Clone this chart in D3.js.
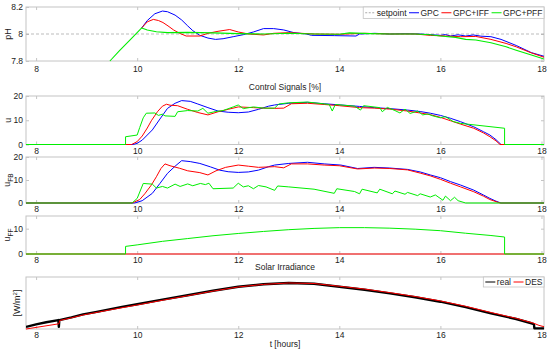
<!DOCTYPE html>
<html>
<head>
<meta charset="utf-8">
<script src="https://cdn.jsdelivr.net/npm/d3@7"></script>
<style>
  body { margin: 0; background: #fff; }
  text { font-family: 'Liberation Sans', Arial, sans-serif; font-size: 8.5px; fill: #222; }
</style>
</head>
<body>
<svg width="550" height="352"></svg>
<script>
// ---- data (t in hours) ----
const timeDomain = [7.8, 18.05];
const hourTicks = [8, 10, 12, 14, 16, 18];

const phTicks = [7.8, 8, 8.2];
const phSetpoint = 8;
const phRise = [[9.46, 7.8], [9.66, 7.881], [9.86, 7.956], [10.09, 8.045]];
const phGPC = [[10.09, 8.045], [10.2, 8.1], [10.35, 8.15], [10.5, 8.17], [10.6, 8.165], [10.75, 8.14], [10.88, 8.104],
  [11.0, 8.06], [11.1, 8.025], [11.24, 7.99], [11.4, 7.97], [11.55, 7.96], [11.7, 7.965], [11.9, 7.98], [12.1, 7.995],
  [12.3, 8.015], [12.5, 8.04], [12.7, 8.04], [12.9, 8.03], [13.1, 8.01], [13.35, 8.0], [13.45, 7.99], [13.9, 7.988],
  [14.33, 7.985], [14.4, 8.0], [14.7, 8.005], [15.0, 8.0], [15.3, 8.002], [15.6, 8.0], [15.8, 7.995], [16.0, 7.99],
  [16.1, 7.996], [16.2, 7.985], [16.35, 7.994], [16.5, 7.985], [16.65, 7.993], [16.8, 7.984], [17.0, 7.98],
  [17.2, 7.96], [17.5, 7.915], [17.8, 7.862], [18.05, 7.835]];
const phIFF = [[10.09, 8.045], [10.2, 8.09], [10.32, 8.108], [10.42, 8.1], [10.51, 8.085], [10.61, 8.06], [10.72, 8.03],
  [10.84, 8.005], [10.97, 7.985], [11.24, 7.985], [11.4, 8.005], [11.6, 8.02], [11.83, 8.033], [12.0, 8.015],
  [12.2, 8.0], [12.5, 7.993], [12.7, 8.005], [13.0, 8.01], [13.5, 8.0], [14.0, 7.998], [14.5, 8.005], [15.0, 8.0],
  [15.5, 8.0], [15.8, 7.99], [16.1, 7.985], [16.4, 7.98], [16.7, 7.982], [17.0, 7.96], [17.3, 7.93], [17.5, 7.905],
  [17.8, 7.86], [18.05, 7.828]];
const phPFF = phRise.concat([[10.2, 8.03], [10.38, 8.017], [10.6, 8.01], [11.0, 8.012], [11.5, 8.008], [12.0, 8.003],
  [12.5, 8.0], [13.0, 8.005], [13.5, 8.0], [14.0, 7.998], [14.2, 8.008], [14.6, 8.003], [15.0, 8.0], [15.5, 8.0],
  [15.8, 7.995], [16.0, 7.985], [16.3, 7.975], [16.5, 7.96], [16.7, 7.955], [17.0, 7.935], [17.3, 7.905],
  [17.5, 7.88], [17.8, 7.845], [18.05, 7.815]]);

const uTicks = [0, 10, 20];
const uGPC = [[7.8, 0], [9.92, 0], [10.0, 0.5], [10.1, 1.8], [10.3, 6.0], [10.45, 10.5], [10.6, 14.9], [10.75, 17.0],
  [10.88, 18.1], [11.05, 17.8], [11.2, 16.7], [11.4, 15.2], [11.6, 13.8], [11.8, 13.3], [12.0, 13.1], [12.2, 13.4],
  [12.4, 14.5], [12.6, 15.8], [12.72, 16.3], [13.0, 17.0], [13.37, 17.4], [13.7, 16.8], [14.03, 16.3], [14.4, 15.7],
  [14.69, 15.2], [15.0, 14.8], [15.35, 14.2], [15.6, 13.6], [15.8, 12.9], [16.0, 12.0], [16.2, 10.8], [16.4, 9.4],
  [16.66, 7.3], [16.85, 5.3], [16.98, 3.9], [17.1, 2.0], [17.2, 0], [18.05, 0]];
const uIFF = [[7.8, 0], [9.89, 0], [10.0, 1.2], [10.1, 3.5], [10.2, 6.8], [10.28, 9.8], [10.4, 13.5], [10.5, 15.8],
  [10.58, 16.6], [10.65, 16.2], [10.8, 16.0], [11.0, 14.5], [11.2, 13.2], [11.4, 12.2], [11.6, 13.5], [11.8, 14.5],
  [12.0, 15.5], [12.3, 15.2], [12.5, 15.0], [12.72, 14.9], [12.9, 15.0], [13.05, 16.8], [13.37, 17.0], [13.7, 16.5],
  [14.0, 16.0], [14.4, 15.2], [14.7, 15.0], [15.0, 14.6], [15.35, 13.8], [15.6, 13.0], [15.8, 12.3], [16.0, 11.2],
  [16.2, 9.8], [16.4, 8.4], [16.66, 6.7], [16.85, 4.8], [16.98, 3.2], [17.1, 1.5], [17.18, 0], [18.05, 0]];
const uPFF = [[7.8, 0], [9.77, 0], [9.77, 3.2], [10.0, 3.9], [10.05, 7], [10.12, 11], [10.18, 12.9], [10.35, 13.0],
  [10.42, 12.0], [10.5, 12.5], [10.55, 11.8], [10.75, 11.6], [10.8, 13.5], [11.0, 14.0], [11.2, 13.8], [11.3, 14.9],
  [11.4, 12.9], [11.55, 13.6], [11.7, 14.0], [11.9, 15.5], [12.0, 16.3], [12.1, 14.8], [12.3, 15.5], [12.5, 15.0],
  [12.72, 15.0], [12.8, 16.7], [13.0, 17.2], [13.37, 17.5], [13.8, 16.5], [13.86, 13.8], [13.92, 16.5], [14.3, 15.8],
  [14.42, 14.2], [14.48, 16.0], [14.8, 15.2], [14.85, 13.5], [14.95, 15.3], [15.1, 14.0], [15.2, 13.0], [15.3, 14.6],
  [15.4, 12.8], [15.55, 13.8], [15.65, 12.2], [15.75, 12.6], [15.85, 11.8], [16.0, 11.0], [16.1, 11.5], [16.25, 9.5],
  [16.4, 8.7], [17.27, 6.7], [17.27, 0], [18.05, 0]];

const ufbTicks = [0, 10, 20];
const ufbGPC = [[7.8, 0], [9.95, 0], [10.1, 1.0], [10.3, 4.2], [10.45, 8.5], [10.6, 12.9], [10.75, 16.0], [10.88, 18.4],
  [11.05, 18.0], [11.24, 17.2], [11.45, 15.7], [11.63, 14.3], [11.8, 13.6], [12.0, 13.3], [12.2, 13.5], [12.4, 14.3],
  [12.6, 15.8], [12.72, 16.5], [13.0, 17.2], [13.37, 17.7], [13.7, 17.0], [14.03, 16.5], [14.36, 15.0], [14.69, 15.5],
  [15.0, 15.2], [15.35, 14.6], [15.6, 13.5], [15.8, 12.2], [16.0, 11.0], [16.2, 9.3], [16.4, 7.8], [16.66, 5.6],
  [16.85, 3.5], [16.98, 2.0], [17.1, 0.8], [17.2, 0], [18.05, 0]];
const ufbIFF = [[7.8, 0], [9.9, 0], [10.05, 1.5], [10.15, 4.0], [10.28, 7.8], [10.38, 11.4], [10.47, 15.0], [10.55, 17.0],
  [10.65, 16.2], [10.84, 15.1], [11.0, 14.0], [11.24, 13.2], [11.4, 12.2], [11.56, 14.0], [11.75, 15.5], [12.0, 16.5],
  [12.2, 16.0], [12.4, 15.5], [12.72, 15.8], [12.9, 15.3], [13.05, 17.0], [13.37, 17.0], [13.7, 16.5], [14.0, 16.2],
  [14.36, 14.8], [14.7, 15.2], [15.0, 15.0], [15.35, 14.4], [15.6, 13.0], [15.8, 11.8], [16.0, 10.3], [16.2, 8.6],
  [16.4, 7.0], [16.66, 4.9], [16.85, 3.0], [16.98, 1.5], [17.18, 0], [18.05, 0]];
const ufbPFF = [[7.8, 0], [9.9, 0], [10.0, 2], [10.12, 8.5], [10.3, 8.2], [10.38, 6.5], [10.5, 7.2], [10.6, 6.5],
  [10.75, 8.2], [10.85, 7.2], [11.0, 8.3], [11.1, 7.5], [11.25, 8.5], [11.35, 8.0], [11.42, 8.6], [11.5, 6.2],
  [11.9, 6.5], [12.0, 8.6], [12.1, 7.0], [12.2, 7.5], [12.3, 6.2], [12.4, 7.6], [12.55, 7.0], [12.72, 5.5],
  [12.78, 7.4], [13.0, 7.0], [13.5, 6.0], [13.9, 4.2], [13.95, 6.2], [14.3, 5.0], [14.4, 4.0], [14.45, 6.0],
  [14.75, 4.4], [14.8, 6.0], [15.05, 4.0], [15.1, 5.2], [15.3, 3.8], [15.35, 4.6], [15.55, 3.2], [15.6, 4.0],
  [15.8, 2.6], [15.9, 3.5], [16.05, 1.2], [16.1, 3.0], [16.2, 1.0], [16.28, 2.5], [16.35, 1.0], [16.5, 0], [18.05, 0]];

const uffTicks = [0, 10];
const uffIFF = [[7.8, 0], [18.05, 0]];
const uffPFF = [[7.8, 0], [9.77, 0], [9.77, 3.0], [10.0, 3.6], [10.5, 5.0], [11.0, 6.1], [11.5, 7.2], [12.0, 8.1],
  [12.5, 8.9], [13.0, 9.6], [13.5, 10.1], [14.0, 10.4], [14.5, 10.4], [15.0, 10.2], [15.5, 9.8], [16.0, 9.2],
  [16.5, 8.2], [17.0, 7.3], [17.27, 6.7], [17.27, 0], [18.05, 0]];

const irrReal = [[7.8, 40], [8.0, 90], [8.2, 130], [8.44, 172], [8.45, 40], [8.46, 172], [8.7, 225], [8.93, 282],
  [9.2, 330], [9.45, 378], [9.7, 425], [10.0, 475], [10.5, 565], [11.0, 650], [11.5, 735], [12.0, 813], [12.5, 860],
  [13.0, 885], [13.5, 870], [14.0, 813], [14.5, 755], [15.0, 686], [15.5, 610], [16.0, 525], [16.5, 420],
  [17.0, 302], [17.5, 192], [17.8, 110], [17.85, 95], [17.86, 12], [18.05, 12]];
const irrDES = [[7.8, 0], [8.45, 100], [8.47, 165], [8.7, 215], [8.93, 270], [9.45, 365], [10.0, 462], [10.5, 552],
  [11.0, 640], [11.5, 728], [12.0, 808], [12.5, 858], [13.0, 885], [13.5, 875], [14.0, 822], [14.5, 768],
  [15.0, 700], [15.5, 625], [16.0, 540], [16.5, 437], [17.0, 318], [17.5, 205], [17.85, 110], [17.95, 70], [18.05, 45]];

const colors = {gpc: '#0000ff', iff: '#ff0000', pff: '#00ee00', real: '#000000', grey: '#c4c4c4'};

// ---- layout ----
const svg = d3.select('svg');
const plotLeft = 26, plotRight = 544;
const x = d3.scaleLinear().domain(timeDomain).range([plotLeft, plotRight]);

const panels = [
  {top: 7, bottom: 61, yDomain: [7.8, 8.2], yTicks: phTicks, label: ['pH'], labelX: 11, xPad: 5,
    series: [[phGPC, colors.gpc], [phIFF, colors.iff], [phPFF, colors.pff, 1.1]]},
  {top: 96, bottom: 144.5, yDomain: [0, 20], yTicks: uTicks, label: ['u'], labelX: 11, xPad: 3,
    series: [[uGPC, colors.gpc], [uIFF, colors.iff], [uPFF, colors.pff]]},
  {top: 157, bottom: 203, yDomain: [0, 20], yTicks: ufbTicks, label: ['u', 'FB'], labelX: 10, xPad: 3,
    series: [[ufbGPC, colors.gpc], [ufbIFF, colors.iff], [ufbPFF, colors.pff]]},
  {top: 216, bottom: 254, yDomain: [0, 15], yTicks: uffTicks, label: ['u', 'FF'], labelX: 10, xPad: 3,
    series: [[uffIFF, colors.iff], [uffPFF, colors.pff]]},
  {top: 277, bottom: 329, yDomain: [0, 1000], yTicks: [], label: null, labelX: 20, xPad: 3,
    series: [[irrReal, colors.real, 2.4], [irrDES, colors.iff, 1]]}
];

panels.forEach((p, i) => {
  const y = d3.scaleLinear().domain(p.yDomain).range([p.bottom, p.top]);
  const g = svg.append('g');

  // clip a little beyond the box so that lines sitting on 0 stay whole
  g.append('clipPath').attr('id', 'clip' + i)
    .append('rect')
    .attr('x', plotLeft).attr('y', p.top - 1)
    .attr('width', plotRight - plotLeft).attr('height', p.bottom - p.top + 2);

  // axes with inward ticks
  const styleAxis = sel => {
    sel.select('.domain').remove();
    sel.selectAll('.tick line').attr('stroke', colors.grey);
    sel.selectAll('.tick text').attr('fill', '#222').style('font-size', '8.5px')
      .style('font-family', "'Liberation Sans', Arial, sans-serif");
  };
  g.append('g').attr('transform', `translate(0,${p.bottom})`)
    .call(d3.axisBottom(x).tickValues(hourTicks).tickSize(-3).tickPadding(p.xPad).tickFormat(d => d))
    .call(styleAxis);
  g.append('g').attr('transform', `translate(0,${p.top})`)
    .call(d3.axisTop(x).tickValues(hourTicks).tickSize(-3).tickFormat(''))
    .call(styleAxis);
  g.append('g').attr('transform', `translate(${plotLeft},0)`)
    .call(d3.axisLeft(y).tickValues(p.yTicks).tickSize(-3).tickPadding(3).tickFormat(d => d))
    .call(styleAxis);
  g.append('g').attr('transform', `translate(${plotRight},0)`)
    .call(d3.axisRight(y).tickValues(p.yTicks).tickSize(-3).tickFormat(''))
    .call(styleAxis);

  g.append('rect')
    .attr('x', plotLeft).attr('y', p.top)
    .attr('width', plotRight - plotLeft).attr('height', p.bottom - p.top)
    .attr('fill', 'none').attr('stroke', colors.grey).attr('stroke-width', 1);

  const line = d3.line().x(d => x(d[0])).y(d => y(d[1]));
  const lines = g.append('g').attr('clip-path', `url(#clip${i})`);

  if (i === 0) {
    lines.append('line')
      .attr('x1', plotLeft).attr('x2', plotRight)
      .attr('y1', y(phSetpoint)).attr('y2', y(phSetpoint))
      .attr('stroke', '#aaa').attr('stroke-width', 0.8).attr('stroke-dasharray', '3,2');
  }

  p.series.forEach(([data, color, w]) => {
    lines.append('path')
      .datum(data)
      .attr('d', line)
      .attr('fill', 'none')
      .attr('stroke', color)
      .attr('stroke-width', w || 1)
      .attr('stroke-linejoin', 'round');
  });

  // y labels
  const cy = (p.top + p.bottom) / 2;
  const lab = svg.append('text')
    .attr('transform', `translate(${p.labelX},${cy}) rotate(-90)`)
    .attr('text-anchor', 'middle')
    .style('font-size', '9px');
  if (p.label) {
    lab.append('tspan').text(p.label[0]);
    if (p.label[1]) lab.append('tspan').attr('dy', 2.5).style('font-size', '6.5px').text(p.label[1]);
  } else {
    lab.append('tspan').text('[W/m');
    lab.append('tspan').attr('dy', -3).style('font-size', '6px').text('2');
    lab.append('tspan').attr('dy', 3).text(']');
  }
});

// titles
const midX = (plotLeft + plotRight) / 2;
svg.append('text').attr('x', midX).attr('y', 90).attr('text-anchor', 'middle').text('Control Signals [%]');
svg.append('text').attr('x', midX).attr('y', 270).attr('text-anchor', 'middle').text('Solar Irradiance');
svg.append('text').attr('x', midX).attr('y', 347).attr('text-anchor', 'middle').text('t [hours]');

// legends
const legend = (items, top, h) => {
  const lg = svg.append('g');
  const box = lg.append('rect').attr('y', top).attr('height', h)
    .attr('fill', '#fff').attr('stroke', colors.grey).attr('stroke-width', 0.8);
  let cx = 0;
  const inner = lg.append('g');
  items.forEach(it => {
    inner.append('line')
      .attr('x1', cx + 2).attr('x2', cx + 12)
      .attr('y1', top + h / 2).attr('y2', top + h / 2)
      .attr('stroke', it.color).attr('stroke-width', it.width || 1)
      .attr('stroke-dasharray', it.dash || null);
    const t = inner.append('text').attr('x', cx + 13.5).attr('y', top + h / 2 + 3).text(it.name);
    cx += 13.5 + t.node().getComputedTextLength() + 0.5;
  });
  const w = cx + 1;
  box.attr('x', plotRight - w).attr('width', w);
  inner.attr('transform', `translate(${plotRight - w},0)`);
};

legend([
  {name: 'setpoint', color: '#aaa', dash: '2,1.5'},
  {name: 'GPC', color: colors.gpc},
  {name: 'GPC+IFF', color: colors.iff},
  {name: 'GPC+PFF', color: colors.pff}
], 7, 11.5);

legend([
  {name: 'real', color: '#444', width: 1.4},
  {name: 'DES', color: colors.iff}
], 277, 10);
</script>
</body>
</html>
